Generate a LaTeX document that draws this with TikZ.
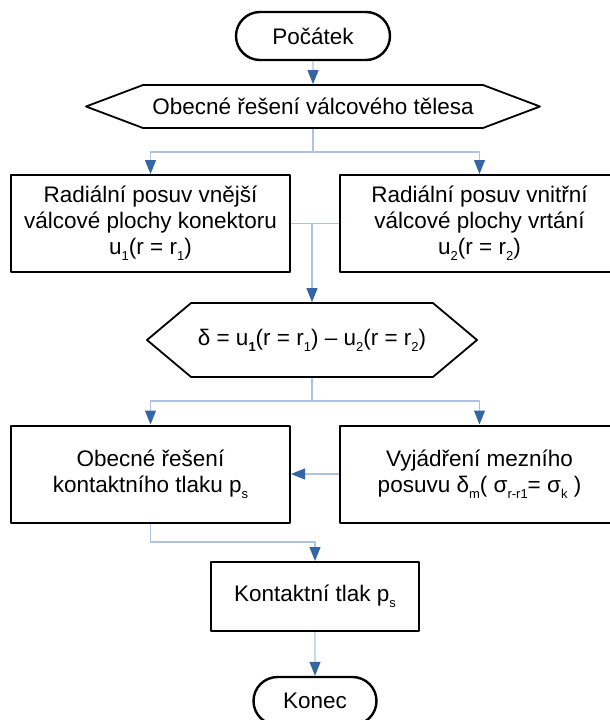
\documentclass[tikz,border=0pt]{standalone}
\usepackage{fontspec}
\setmainfont{Liberation Sans}
\usetikzlibrary{arrows.meta,shapes.misc,shapes.symbols}
\definecolor{linkblue}{HTML}{AEC3E2}
\definecolor{tipblue}{HTML}{3465A4}
\newcommand{\lowsub}[1]{\raisebox{-0.5ex}{\fontsize{13}{13}\selectfont #1}}
\begin{document}
\begin{tikzpicture}[x=1pt, y=-1pt, line join=round, font=\fontsize{22.5}{26}\selectfont,
  terminal/.style={draw, line width=2.4pt, rounded rectangle, minimum width=154pt, minimum height=48pt, inner sep=0pt},
  hexa/.style={draw, line width=1.8pt, signal, signal to=west and east, inner sep=0pt},
  block/.style={draw, line width=2pt, minimum width=279pt, minimum height=97pt, align=center, inner sep=0pt},
  link/.style={linkblue, line width=1.1pt},
  flow/.style={link, -{Triangle[length=14pt,width=11pt,color=tipblue]}}]
\useasboundingbox (0,0) rectangle (610,720);
\path
(313,152) coordinate (split1)
(312,223.5) coordinate (join1)
(312,401) coordinate (split2)
(315,542) coordinate (merge);
\node[terminal] (start) at (313,36) {Počátek};
\node[hexa, minimum width=454pt, minimum height=43pt, signal pointer angle=41.3] (hex1) at (313,106.5) {Obecné řešení válcového tělesa};
\node[block] (boxA) at (150.5,223.5) {Radiální posuv vnější\\válcové plochy konektoru\\u\lowsub{1}(r = r\lowsub{1})};
\node[block] (boxB) at (479.5,223.5) {Radiální posuv vnitřní\\válcové plochy vrtání\\u\lowsub{2}(r = r\lowsub{2})};
\node[hexa, minimum width=330pt, minimum height=74pt, signal pointer angle=80] (hex2) at (312,340) {δ = u\lowsub{\textbf{1}}(r = r\lowsub{1}) – u\lowsub{2}(r = r\lowsub{2})};
\node[block] (boxC) at (150.5,474) {Obecné řešení\\kontaktního tlaku p\lowsub{s}};
\node[block] (boxD) at (479.5,474) {Vyjádření mezního\\posuvu δ\lowsub{m}( σ\lowsub{r-r1}= σ\lowsub{k} )};
\node[block, minimum width=208pt, minimum height=69pt] (boxE) at (315,596.5) {Kontaktní tlak p\lowsub{s}};
\node[terminal, minimum width=123pt] (stop) at (315,701) {Konec};
\draw[flow] (start) -- (hex1);
\draw[link] (hex1.south) -- (split1);
\draw[flow] (split1) -| (boxA.north);
\draw[flow] (split1) -| (boxB.north);
\draw[link] (boxA.east) -- (boxB.west);
\draw[flow] (join1) -- (hex2.north);
\draw[link] (hex2.south) -- (split2);
\draw[flow] (split2) -| (boxC.north);
\draw[flow] (split2) -| (boxD.north);
\draw[flow] (boxD.west) -- (boxC.east);
\draw[flow] (boxC.south) |- (merge) -- (boxE.north);
\draw[flow] (boxE) -- (stop);
\end{tikzpicture}
\end{document}
